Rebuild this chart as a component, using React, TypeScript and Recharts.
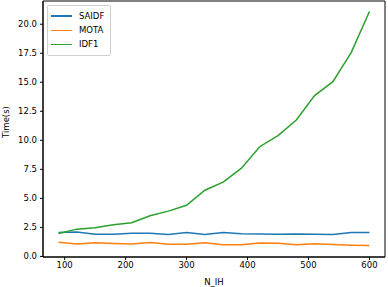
import React from 'react';
import { LineChart, Line, XAxis, YAxis, Legend, ReferenceArea } from 'recharts';

const nIH = [90, 120, 150, 180, 210, 240, 270, 300, 330, 360, 390, 420, 450, 480, 510, 540, 570, 600];
const saidf = [2.05, 2.1, 1.9, 1.9, 2.0, 2.0, 1.88, 2.05, 1.88, 2.05, 1.95, 1.93, 1.9, 1.93, 1.9, 1.88, 2.05, 2.05];
const mota = [1.23, 1.06, 1.17, 1.12, 1.06, 1.2, 1.05, 1.05, 1.17, 1.0, 1.0, 1.15, 1.13, 1.0, 1.1, 1.02, 0.97, 0.95];
const idf1 = [1.98, 2.35, 2.47, 2.72, 2.9, 3.5, 3.9, 4.4, 5.7, 6.4, 7.6, 9.45, 10.4, 11.75, 13.85, 15.05, 17.55, 21.1];

const xTicks = [100, 200, 300, 400, 500, 600];
const yTicks = [0, 2.5, 5, 7.5, 10, 12.5, 15, 17.5, 20];
const xDomain = [64.5, 625.5];
const yDomain = [-0.05, 22.0];

const series = [
  { key: 'SAIDF', color: '#1f77b4' },
  { key: 'MOTA', color: '#ff7f0e' },
  { key: 'IDF1', color: '#2ca02c' },
];

const data = nIH.map((n, i) => ({ n, SAIDF: saidf[i], MOTA: mota[i], IDF1: idf1[i] }));

const font = 'DejaVu Sans, sans-serif';
const tickStyle = { fill: '#000', fontSize: 8.5, fontFamily: font };

const LegendBox = () => (
  <div
    style={{
      border: '1px solid #d0d0d0',
      borderRadius: 2,
      background: 'rgba(255,255,255,0.8)',
      padding: '3px 6px 3px 3px',
      fontFamily: font,
      fontSize: 8.5,
      color: '#000',
    }}
  >
    {series.map((s) => (
      <div key={s.key} style={{ display: 'flex', alignItems: 'center', height: 14.2 }}>
        <span style={{ display: 'inline-block', width: 21, height: 1.5, background: s.color, marginRight: 7 }} />
        <span>{s.key}</span>
      </div>
    ))}
  </div>
);

export default function App() {
  return (
    <div style={{ position: 'absolute', left: 0, top: 0, background: '#fff' }}>
      <LineChart width={388} height={287} data={data} margin={{ top: 1, right: 3, bottom: 0, left: 0 }}>
        <ReferenceArea
          x1={xDomain[0]}
          x2={xDomain[1]}
          y1={yDomain[0]}
          y2={yDomain[1]}
          fill="none"
          stroke="#000"
          strokeWidth={1}
          ifOverflow="visible"
        />
        <XAxis
          dataKey="n"
          type="number"
          domain={xDomain}
          ticks={xTicks}
          tickSize={3}
          tickMargin={2}
          height={30}
          stroke="#000"
          tick={tickStyle}
          label={{ value: 'N_IH', position: 'insideBottom', offset: 2, fill: '#000', fontSize: 8.5, fontFamily: font }}
        />
        <YAxis
          type="number"
          domain={yDomain}
          ticks={yTicks}
          tickFormatter={(v: number) => v.toFixed(1)}
          tickSize={3}
          tickMargin={3}
          width={43}
          stroke="#000"
          tick={tickStyle}
          label={{ value: 'Time(s)', angle: -90, position: 'insideLeft', offset: 6, dy: -7, fill: '#000', fontSize: 8.5, fontFamily: font, style: { textAnchor: 'middle' } }}
        />
        <Legend
          layout="vertical"
          verticalAlign="middle"
          align="center"
          content={<LegendBox />}
          wrapperStyle={{ left: 47, top: 5, width: 'auto' }}
        />
        {series.map((s) => (
          <Line
            key={s.key}
            dataKey={s.key}
            stroke={s.color}
            strokeWidth={1.5}
            dot={false}
            isAnimationActive={false}
          />
        ))}
      </LineChart>
    </div>
  );
}
